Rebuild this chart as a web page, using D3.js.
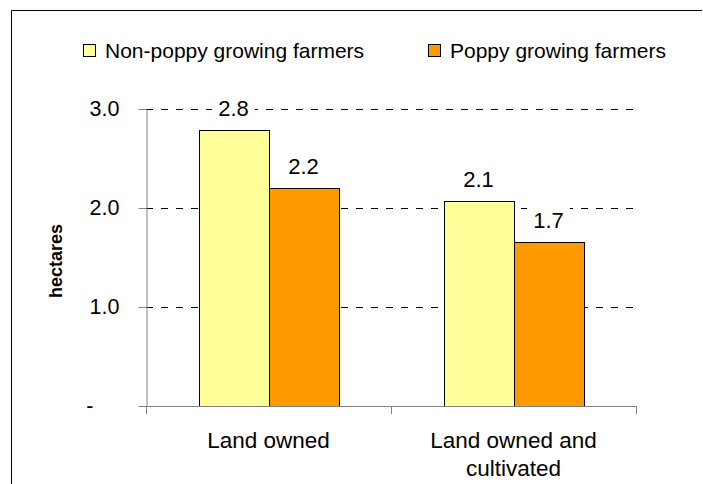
<!DOCTYPE html>
<html>
<head>
<meta charset="utf-8">
<script src="https://cdn.jsdelivr.net/npm/d3@7/dist/d3.min.js"></script>
<style>
  html, body { margin: 0; padding: 0; background: #fff; }
  svg { display: block; font-family: "Liberation Sans", Arial, sans-serif; }
</style>
</head>
<body>
<svg id="chart" width="703" height="484"></svg>
<script>
// Average land holding per farmer (hectares)
const categories = ["Land owned", "Land owned and cultivated"];
const seriesNames = ["Non-poppy growing farmers", "Poppy growing farmers"];
const nonPoppy = [2.79, 2.07];
const poppy = [2.2, 1.66];
const tickValues = [0, 1, 2, 3];
const tickLabels = ["-", "1.0", "2.0", "3.0"];
const colors = ["#FFFF99", "#FF9900"];

const seriesValues = [nonPoppy, poppy];
const fmt = d3.format(".1f");

const svg = d3.select("#chart");
const plot = { left: 146, right: 636, top: 109, bottom: 406 };

// Frame around the chart area (top and left edges)
svg.append("path")
  .attr("d", "M11.5,490 V10.5 H702")
  .attr("fill", "none")
  .attr("stroke", "#000")
  .attr("stroke-width", 1);

const y = d3.scaleLinear().domain([0, 3]).range([plot.bottom, plot.top]);
const x0 = d3.scaleBand().domain(categories).range([plot.left, plot.right]).padding(0);
const x1 = d3.scaleBand().domain(seriesNames).range([0, x0.bandwidth()])
  .paddingInner(0).paddingOuter(0.75);

// Dashed gridlines
svg.append("g")
  .selectAll("line")
  .data(tickValues.filter(d => d > 0))
  .join("line")
  .attr("x1", plot.left)
  .attr("x2", plot.right)
  .attr("y1", d => Math.round(y(d)) + 0.5)
  .attr("y2", d => Math.round(y(d)) + 0.5)
  .attr("stroke", "#000")
  .attr("stroke-dasharray", "7,8");

// Y axis
const yAxis = svg.append("g")
  .attr("transform", `translate(${plot.left + 0.5},0)`)
  .call(d3.axisLeft(y)
    .tickValues(tickValues)
    .tickFormat((d, i) => tickLabels[i])
    .tickSize(8)
    .tickSizeOuter(0)
    .tickPadding(19));
yAxis.select(".domain").attr("stroke", "#808080");
yAxis.selectAll(".tick line").attr("stroke", "#808080");
yAxis.selectAll(".tick text")
  .attr("font-size", 21.5)
  .attr("font-family", "Liberation Sans, Arial, sans-serif")
  .attr("fill", "#000")
  .filter(d => d === 0)
  .attr("dx", -26);

// Bars
const groups = svg.append("g")
  .selectAll("g")
  .data(categories)
  .join("g")
  .attr("transform", d => `translate(${x0(d)},0)`);

const cells = (c, ci) => seriesNames.map((s, si) => ({ s, si, v: seriesValues[si][ci] }));

groups.selectAll("rect.bar")
  .data(cells)
  .join("rect")
  .attr("class", "bar")
  .attr("x", d => Math.round(x1(d.s)) + 0.5)
  .attr("y", d => Math.round(y(d.v)) + 0.5)
  .attr("width", x1.bandwidth())
  .attr("height", d => Math.round(y(0)) - Math.round(y(d.v)))
  .attr("fill", d => colors[d.si])
  .attr("stroke", "#000")
  .attr("stroke-width", 1);

// Value labels on a white box, so gridlines do not run through them
const labels = groups.selectAll("g.value")
  .data(cells)
  .join("g")
  .attr("class", "value");
const labelText = labels.append("text")
  .attr("x", d => x1(d.s) + x1.bandwidth() / 2)
  .attr("y", d => y(d.v) - 14)
  .attr("text-anchor", "middle")
  .attr("font-size", 22)
  .attr("fill", "#000")
  .text(d => fmt(d.v));
labels.each(function () {
  const g = d3.select(this);
  const b = g.select("text").node().getBBox();
  g.insert("rect", "text")
    .attr("x", b.x - 6).attr("y", b.y)
    .attr("width", b.width + 12).attr("height", b.height)
    .attr("fill", "#fff");
});

// Category axis line and boundary ticks
svg.append("line")
  .attr("x1", plot.left).attr("x2", plot.right)
  .attr("y1", plot.bottom + 0.5).attr("y2", plot.bottom + 0.5)
  .attr("stroke", "#808080");
const boundaries = [plot.left].concat(categories.map(c => x0(c) + x0.bandwidth()));
svg.append("g")
  .selectAll("line")
  .data(boundaries)
  .join("line")
  .attr("x1", d => Math.round(d) + 0.5).attr("x2", d => Math.round(d) + 0.5)
  .attr("y1", plot.bottom).attr("y2", plot.bottom + 8)
  .attr("stroke", "#808080");

// Category labels, wrapped to fit the band
const catText = svg.append("g")
  .selectAll("text")
  .data(categories)
  .join("text")
  .attr("x", d => x0(d) + x0.bandwidth() / 2)
  .attr("y", 448)
  .attr("text-anchor", "middle")
  .attr("font-size", 22.5)
  .attr("fill", "#000");

catText.each(function (d) {
  const el = d3.select(this);
  const words = d.split(" ");
  const maxW = 200;
  let line = [];
  let tspan = el.append("tspan").attr("x", el.attr("x")).attr("dy", 0);
  words.forEach(w => {
    line.push(w);
    tspan.text(line.join(" "));
    if (tspan.node().getComputedTextLength() > maxW && line.length > 1) {
      line.pop();
      tspan.text(line.join(" "));
      line = [w];
      tspan = el.append("tspan").attr("x", el.attr("x")).attr("dy", 28).text(w);
    }
  });
});

// Y axis title
svg.append("text")
  .attr("transform", "translate(62,261) rotate(-90)")
  .attr("text-anchor", "middle")
  .attr("font-size", 18)
  .attr("font-weight", "bold")
  .attr("fill", "#000")
  .text("hectares");

// Legend
const legendX = [83, 428];
const legend = svg.append("g")
  .selectAll("g")
  .data(seriesNames)
  .join("g")
  .attr("transform", (d, i) => `translate(${legendX[i]},44)`);
legend.append("rect")
  .attr("x", 0.5).attr("y", 0.5)
  .attr("width", 12).attr("height", 12)
  .attr("fill", (d, i) => colors[i])
  .attr("stroke", "#000");
legend.append("text")
  .attr("x", 22)
  .attr("y", 14)
  .attr("font-size", 21)
  .attr("fill", "#000")
  .text(d => d);
</script>
</body>
</html>
